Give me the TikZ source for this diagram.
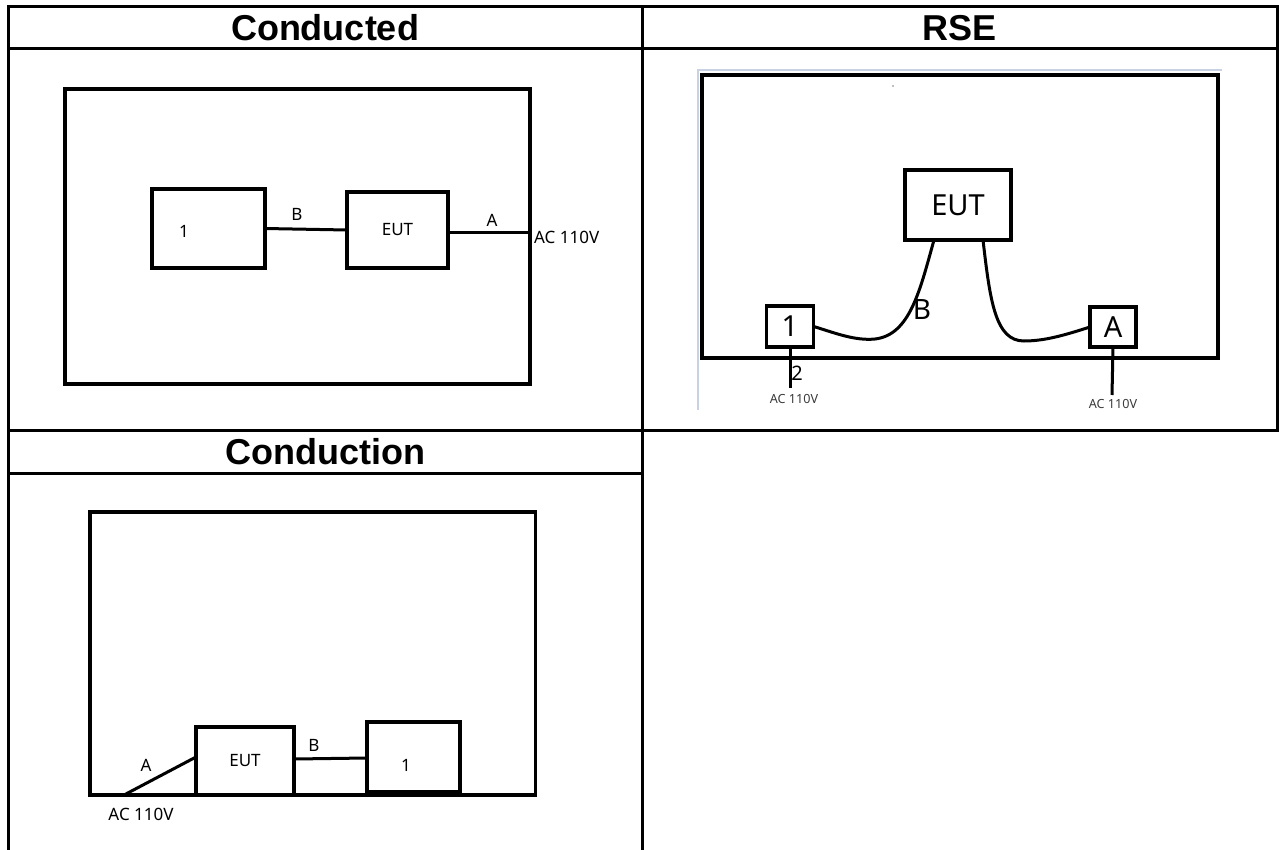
\documentclass[tikz,border=0pt]{standalone}
\usepackage{fontspec}
\setmainfont{Liberation Sans}
\newfontfamily\labfont{Noto Sans}
\usetikzlibrary{calc}
\definecolor{imgframe}{HTML}{C9D2E2}
\definecolor{smallgray}{HTML}{3A3A3A}
\begin{document}
\begin{tikzpicture}[x=1pt,y=-1pt,
  tline/.style={line width=3pt, line cap=rect},
  wire/.style={line width=3pt},
  boxn/.style={draw, line width=3.2pt, inner sep=0pt, outer sep=0pt, font=\labfont\fontsize{17}{19}\selectfont},
  bigbox/.style={boxn, font=\labfont\fontsize{29}{32}\selectfont},
  title/.style={font=\fontsize{36}{40}\selectfont\bfseries, inner sep=0pt},
  lab/.style={font=\labfont\fontsize{17}{19}\selectfont, inner sep=0pt},
  biglab/.style={font=\labfont\fontsize{28}{30}\selectfont, inner sep=0pt},
  smalllab/.style={font=\labfont\fontsize{12.6}{14}\selectfont, inner sep=0pt, text=smallgray}]
\useasboundingbox (0,0) rectangle (1279,850);

% table
\draw[tline] (8,850) -- (8,7) -- (1277,7) -- (1277,430);
\draw[tline] (8,49) -- (1277,49);
\draw[tline] (8,430) -- (1277,430);
\draw[tline] (8,473) -- (642,473);
\draw[tline] (642,7) -- (642,850);

\node[title] (t1) at (325,28) {Conducted};
\node[title] (t2) at (959.5,28) {RSE};
\node[title] (t3) at (325,451.5) {Conduction};

% ---------- Conducted ----------
\node[boxn, minimum width=465pt, minimum height=295pt] (frame1) at (297.5,236.5) {};
\node[boxn, minimum width=113pt, minimum height=79pt] (one1) at (208.5,228.5) {};
\node[lab] (one1t) at (184,231) {1};
\node[boxn, minimum width=101pt, minimum height=76pt] (eut1) at (397.5,230) {EUT};
\draw[wire] (one1.east) -- (eut1.west);
\draw[wire] ($(eut1.east)+(0,3)$) -- ($(eut1.east -| frame1.east)+(0,3)$);
\node[lab] (b1) at (297,214) {B};
\node[lab] (a1) at (492,220) {A};
\node[lab, anchor=west] (ac1) at (534,237) {AC 110V};

% ---------- RSE ----------
\draw[imgframe, line width=1.5pt] (698,410) -- (698,70) -- (1222,70);
\fill[black!25] (892,85) rectangle (894,87);
\node[boxn, minimum width=516pt, minimum height=283pt] (frame2) at (960,216.5) {};
\node[bigbox, minimum width=106pt, minimum height=70pt] (eut2) at (958,205) {EUT};
\node[bigbox, minimum width=47.5pt, minimum height=41pt] (one2) at (790,326.5) {1};
\node[bigbox, minimum width=46pt, minimum height=40pt] (boxA) at (1113,327) {A};
\draw[wire] ($(eut2.south)+(-24,0)$) .. controls (920,290) and (910,335) .. (875,339)
  .. controls (855,341) and (835,333) .. (one2.east);
\draw[wire] ($(eut2.south)+(25,0)$) .. controls (990,300) and (995,341) .. (1024,341)
  .. controls (1045,341) and (1065,335) .. (boxA.west);
\node[biglab] (b2) at (922,310) {B};
\coordinate (p1) at ($(one2.south)+(0,41)$);
\coordinate (p2) at ($(boxA.south)+(-1,48)$);
\draw[wire] (one2.south) -- (p1);
\draw[wire] (boxA.south) -- (p2);
\node[font=\labfont\fontsize{20}{22}\selectfont, inner sep=0pt] (two2) at (797,373) {2};
\node[smalllab] (ac2a) at (794,399) {AC 110V};
\node[smalllab] (ac2b) at (1113,404) {AC 110V};

% ---------- Conduction ----------
\node[boxn, minimum width=445.5pt, minimum height=283pt] (frame3) at (312.75,653.5) {};
\node[boxn, minimum width=98pt, minimum height=68pt] (eut3) at (245,761) {EUT};
\node[boxn, minimum width=93pt, minimum height=70pt] (one3) at (413.5,757) {};
\node[lab] (one3t) at (406,765) {1};
\draw[wire] ($(eut3.east)+(0,-2)$) -- ($(one3.west)+(0,1)$);
\coordinate (a3end) at ($(frame3.south west)+(34,0)$);
\draw[wire] ($(eut3.west)+(0,-4)$) -- (a3end);
\node[lab] (a3) at (146,765) {A};
\node[lab] (b3) at (314,745) {B};
\node[lab] (ac3) at (141,814) {AC 110V};
\end{tikzpicture}
\end{document}
